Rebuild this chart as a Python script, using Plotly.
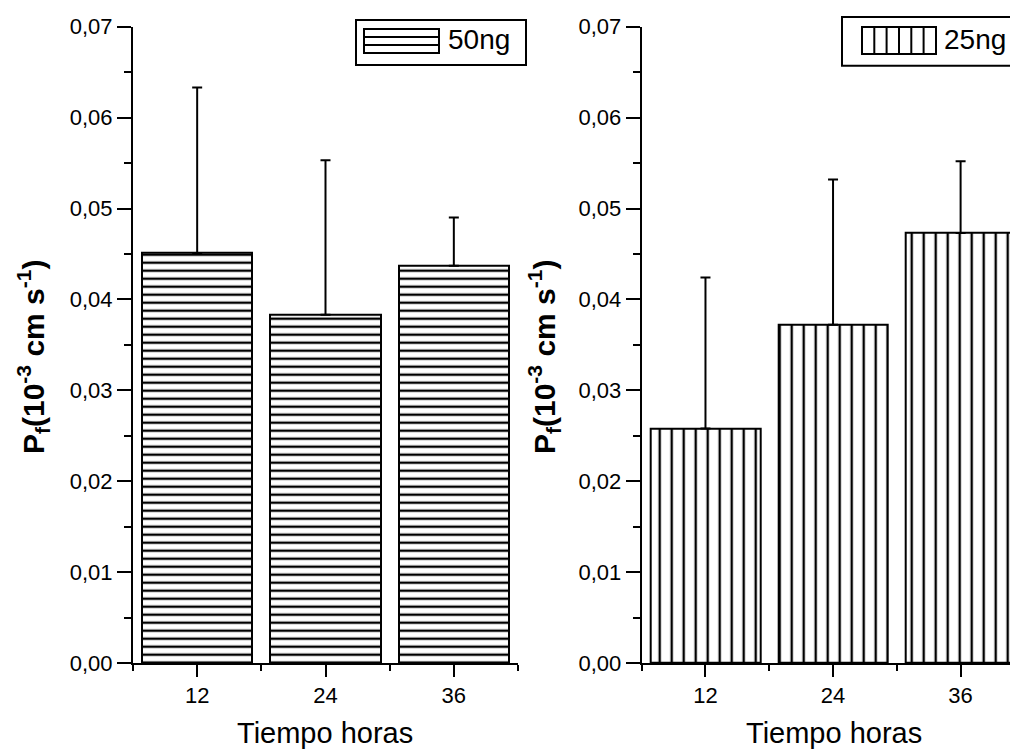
import plotly.graph_objects as go

# ---- data ----
hours = [12, 24, 36]
p_50ng = [0.0451, 0.0383, 0.0437]
err_50ng = [0.0182, 0.0170, 0.0053]
p_25ng = [0.0258, 0.0372, 0.0473]
err_25ng = [0.0166, 0.0160, 0.0079]
major_x = [12, 24, 36]
minor_x = [6, 18, 30, 42]
y_ticks = [0.00, 0.01, 0.02, 0.03, 0.04, 0.05, 0.06, 0.07]
y_title = "<b>P<sub>f</sub>(10<sup>-3</sup> cm s<sup>-1</sup>)</b>"
x_title = "Tiempo horas"
labels = ["50ng", "25ng"]

OFF = 8  # page body margin of the browser
W, H = 1018 - OFF, 752 - OFF
FONT = "Arial, Liberation Sans, sans-serif"


def px(x):
    return (x - OFF) / W


def py(y):
    return 1 - (y - OFF) / H


fig = go.Figure()

bar_line = dict(color="black", width=2)
fig.add_trace(go.Bar(
    x=hours, y=p_50ng, width=10.3, name=labels[0], xaxis="x", yaxis="y",
    marker=dict(color="white", line=bar_line,
                pattern=dict(shape="-", size=8, solidity=0.3,
                             fgcolor="black", bgcolor="white")),
    error_y=dict(type="data", symmetric=False, array=err_50ng,
                 arrayminus=[0, 0, 0], color="black", thickness=2, width=5),
    showlegend=False,
))
fig.add_trace(go.Bar(
    x=hours, y=p_25ng, width=10.3, name=labels[1], xaxis="x2", yaxis="y2",
    marker=dict(color="white", line=bar_line,
                pattern=dict(shape="|", size=12, solidity=0.2,
                             fgcolor="black", bgcolor="white")),
    error_y=dict(type="data", symmetric=False, array=err_25ng,
                 arrayminus=[0, 0, 0], color="black", thickness=2, width=5),
    showlegend=False,
))

xcommon = dict(
    tickvals=major_x, ticks="outside", ticklen=12, tickwidth=2, tickcolor="black",
    showline=True, linecolor="black", linewidth=2, showgrid=False, zeroline=False,
    automargin=False, ticklabelstandoff=0,
    minor=dict(tickvals=minor_x, ticks="outside", ticklen=6, tickwidth=2,
               tickcolor="black", showgrid=False),
    tickfont=dict(family=FONT, size=22, color="black"),
)
ycommon = dict(
    range=[0, 0.07], tickvals=y_ticks, tickformat=".2f", ticks="outside",
    ticklen=14, tickwidth=2, tickcolor="black", automargin=False,
    showline=True, linecolor="black", linewidth=2, showgrid=False, zeroline=False,
    minor=dict(dtick=0.005, ticks="outside", ticklen=7, tickwidth=2,
               tickcolor="black", showgrid=False),
    tickfont=dict(family=FONT, size=22, color="black"),
    domain=[py(663), py(26.7)],
)

fig.update_layout(
    template="none",
    width=W, height=H,
    margin=dict(l=0, r=0, t=0, b=0, pad=0, autoexpand=False),
    paper_bgcolor="white", plot_bgcolor="white",
    separators=",.",
    bargap=0,
    xaxis=dict(domain=[px(133), px(518)], range=[6, 42], anchor="y", **xcommon),
    yaxis=dict(anchor="x", **ycommon),
    xaxis2=dict(domain=[px(641.7), 1.0], range=[6, 41.4], anchor="y2", **xcommon),
    yaxis2=dict(anchor="x2", **ycommon),
)

# axis titles
for cx_ in [33, 544]:
    fig.add_annotation(text=y_title, x=px(cx_), y=py(357), xref="paper", yref="paper",
                       textangle=-90, showarrow=False, xanchor="center", yanchor="middle",
                       font=dict(family=FONT, size=30, color="black"))
for cx_ in [325, 834]:
    fig.add_annotation(text=x_title, x=px(cx_), y=py(733), xref="paper", yref="paper",
                       showarrow=False, xanchor="center", yanchor="middle",
                       font=dict(family=FONT, size=29, color="black"))

# legends (drawn as decoration)
shapes = []
lw = dict(color="black", width=2)
shapes.append(dict(type="rect", xref="paper", yref="paper", x0=px(356), x1=px(526),
                   y0=py(65), y1=py(20), line=lw, fillcolor="white"))
shapes.append(dict(type="rect", xref="paper", yref="paper", x0=px(364), x1=px(439),
                   y0=py(53), y1=py(29), line=lw))
for yy in [37, 45]:
    shapes.append(dict(type="line", xref="paper", yref="paper", x0=px(364), x1=px(439),
                       y0=py(yy), y1=py(yy), line=lw))
shapes.append(dict(type="rect", xref="paper", yref="paper", x0=px(842), x1=px(1030),
                   y0=py(65.7), y1=py(17), line=lw, fillcolor="white"))
shapes.append(dict(type="rect", xref="paper", yref="paper", x0=px(862), x1=px(936),
                   y0=py(54), y1=py(27), line=lw))
for xx in [874.3, 886.6, 899, 911.3, 923.6]:
    shapes.append(dict(type="line", xref="paper", yref="paper", x0=px(xx), x1=px(xx),
                       y0=py(54), y1=py(27), line=lw))
fig.update_layout(shapes=shapes)

fig.add_annotation(text=labels[0], x=px(446), y=py(40), xref="paper", yref="paper",
                   showarrow=False, xanchor="left", yanchor="middle",
                   font=dict(family=FONT, size=28, color="black"))
fig.add_annotation(text=labels[1], x=px(942), y=py(40), xref="paper", yref="paper",
                   showarrow=False, xanchor="left", yanchor="middle",
                   font=dict(family=FONT, size=28, color="black"))

fig.write_html("out.html")
